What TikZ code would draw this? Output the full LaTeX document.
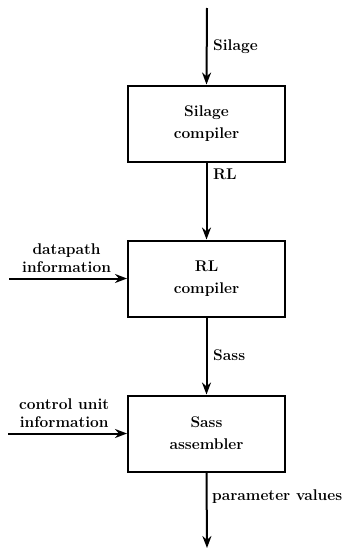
\documentclass[tikz,border=0pt]{standalone}
\usetikzlibrary{arrows.meta}
\begin{document}
\begin{tikzpicture}[x=1pt,y=-1pt,
  txt/.style={font=\fontsize{15.5}{18}\selectfont\bfseries, align=center, inner sep=0pt},
  stage/.style={draw, line width=2pt, minimum width=157pt, minimum height=76pt,
    font=\fontsize{15.5}{22}\selectfont\bfseries, align=center},
  flow/.style={line width=2pt, -{Stealth[length=12pt,width=9pt]}},
  lbl/.style={txt, anchor=west}]
\useasboundingbox (0,0) rectangle (347,549);
\node[stage] (silage) at (206.5,123.5) {Silage\\compiler};
\node[stage] (rl) at (206.5,278.5) {RL\\compiler};
\node[stage] (sass) at (206.5,433.5) {Sass\\assembler};
\coordinate (top) at (207,8);
\coordinate (bot) at (207,548);
\coordinate (dp) at (9,278.5);
\coordinate (cu) at (8,433.5);
\draw[flow] (top) -- (silage.north);
\draw[flow] (silage.south) -- (rl.north);
\draw[flow] (rl.south) -- (sass.north);
\draw[flow] (sass.south) -- (bot);
\draw[flow] (dp) -- (rl.west);
\draw[flow] (cu) -- (sass.west);
\node[lbl] (l1) at (213,47) {Silage};
\node[lbl] (l2) at (213,174) {RL};
\node[lbl] (l3) at (213,355) {Sass};
\node[lbl] (l4) at (212,497) {parameter values};
\node[txt, anchor=south west] (l5) at (22,273) {datapath\\information};
\node[txt, anchor=south west] (l6) at (19,428) {control unit\\information};
\end{tikzpicture}
\end{document}
